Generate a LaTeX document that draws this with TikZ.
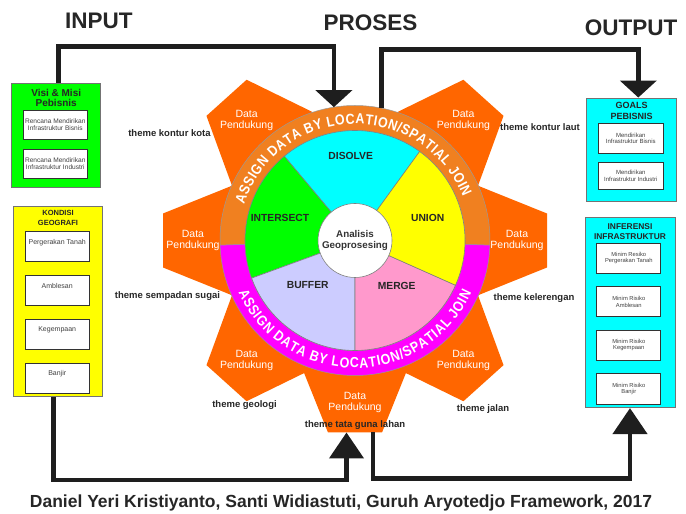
\documentclass[tikz,border=0pt]{standalone}
\usepackage{fontspec}
\setmainfont{Liberation Sans}
\newfontfamily\ringfamily[FakeStretch=0.86]{Liberation Sans}
\usetikzlibrary{arrows.meta,positioning,decorations.text}

\definecolor{visigreen}{RGB}{0,255,0}
\definecolor{geoyellow}{RGB}{255,255,0}
\definecolor{outcyan}{RGB}{0,255,255}
\definecolor{toothorange}{RGB}{255,102,0}
\definecolor{ringorange}{RGB}{240,128,32}
\definecolor{ringmagenta}{RGB}{255,0,255}
\definecolor{bufferblue}{RGB}{204,204,255}
\definecolor{mergepink}{RGB}{255,153,204}
\definecolor{flowgray}{RGB}{30,30,30}

\newcommand{\hdrfont}{\fontsize{22.5}{26}\selectfont\bfseries}
\newcommand{\ringfont}{\ringfamily\fontsize{14.5}{14.5}\selectfont\bfseries}

\begin{document}
\begin{tikzpicture}[x=1pt, y=1pt,
  panel/.style={draw=black!55, line width=0.8pt, inner sep=0pt},
  ttl/.style={text=black!85, align=center, inner sep=0pt},
  subbox/.style={draw=black!80, line width=1pt, fill=white, text=black!75, align=center, inner sep=1pt},
  topbox/.style={subbox, minimum width=64.3, text height=10.5pt, text depth=15.5pt, inner sep=2pt, font=\fontsize{7}{8}\selectfont},
  tooth/.style={fill=toothorange},
  sector/.style={draw=black!50, line width=0.6pt},
  dp/.style={text=white, align=center, font=\fontsize{10.5}{11}\selectfont, inner sep=0pt},
  theme/.style={font=\fontsize{9.5}{11}\selectfont\bfseries, text=black!85, inner sep=0pt},
  op/.style={font=\fontsize{10.3}{12}\selectfont\bfseries, text=black!85},
  hdr/.style={font=\hdrfont, text=black!85},
  flow/.style={draw=flowgray, line width=4.5pt},
  tiptop/.tip={Triangle[length=17pt, width=36pt]},
  tipbot/.tip={Triangle[length=26pt, width=34pt]}]

\useasboundingbox (0,0) rectangle (686,514);

\node[hdr] (input) at (98.8,493) {INPUT};
\node[hdr] (proses) at (370.5,491) {PROSES};
\node[hdr] (output) at (631,486.5) {OUTPUT};

\node[panel, fill=visigreen, minimum width=89, minimum height=104] (visi) at (56.2,378.7) {};
\node[ttl, font=\fontsize{10}{10.5}\selectfont\bfseries] (visititle) at (56.2,416.3) {Visi \& Misi\\Pebisnis};
\node[subbox, minimum width=64, minimum height=29.3, font=\fontsize{6.6}{7}\selectfont] (visi1) at (55.3,389.3) {Rencana Mendirikan\\Infrastruktur Bisnis};
\node[subbox, minimum width=64, minimum height=29, font=\fontsize{6.6}{7}\selectfont, below=9pt of visi1] (visi2) {Rencana Mendirikan\\Infrastruktur Industri};

\node[panel, fill=geoyellow, minimum width=89.4, minimum height=190] (kondisi) at (58,212.3) {};
\node[ttl, font=\fontsize{7.5}{10}\selectfont\bfseries] (kondisititle) at (58,295.7) {KONDISI\\GEOGRAFI};
\node[topbox] (kondisi1) at (57.2,267) {Pergerakan Tanah};
\node[topbox, below=12.7pt of kondisi1] (kondisi2) {Amblesan};
\node[topbox, below=12.7pt of kondisi2] (kondisi3) {Kegempaan};
\node[topbox, below=12.7pt of kondisi3] (kondisi4) {Banjir};

\node[panel, fill=outcyan, minimum width=90, minimum height=103.7] (goals) at (631.7,364.2) {};
\node[ttl, font=\fontsize{9}{11.5}\selectfont\bfseries] (goalstitle) at (631.7,403.1) {GOALS\\PEBISNIS};
\node[subbox, minimum width=65, minimum height=30, font=\fontsize{6}{6.7}\selectfont] (goals1) at (630.8,375.7) {Mendirikan\\Infrastruktur Bisnis};
\node[subbox, minimum width=65, minimum height=26.6, font=\fontsize{6}{6.7}\selectfont, below=8.4pt of goals1] (goals2) {Mendirikan\\Infrastruktur Industri};

\node[panel, fill=outcyan, minimum width=90, minimum height=190] (inferensi) at (630,201.3) {};
\node[ttl, font=\fontsize{8.4}{10}\selectfont\bfseries] (inferensititle) at (630,282.3) {INFERENSI\\INFRASTRUKTUR};
\node[subbox, minimum width=64.3, minimum height=30, font=\fontsize{5.8}{6.3}\selectfont] (inferensi1) at (628.8,255.7) {Minim Resiko\\Pergerakan Tanah};
\node[subbox, minimum width=64.3, minimum height=30, font=\fontsize{5.8}{6.3}\selectfont, below=12.5pt of inferensi1] (inferensi2) {Minim Risiko\\Amblesan};
\node[subbox, minimum width=64.3, minimum height=30, font=\fontsize{5.8}{6.3}\selectfont, below=12.5pt of inferensi2] (inferensi3) {Minim Risiko\\Kegempaan};
\node[subbox, minimum width=64.3, minimum height=31, font=\fontsize{5.8}{6.3}\selectfont, below=12.5pt of inferensi3] (inferensi4) {Minim Risiko\\Banjir};

\coordinate (O) at (355,273.5);
\begin{scope}[shift={(O)}]
  \foreach \a in {0,48,132,180,228,270,312}
    \fill[tooth, rotate=\a] (110,-60) -- (192,-27) -- (192,27) -- (110,60) -- cycle;
  \filldraw[fill=ringorange, draw=black!40, line width=0.5pt] (-2:110) arc[start angle=-2, end angle=182, radius=110] -- (182:135) arc[start angle=182, end angle=-2, radius=135] -- cycle;
  \filldraw[fill=ringmagenta, draw=black!40, line width=0.5pt] (182:110) arc[start angle=182, end angle=358, radius=110] -- (358:135) arc[start angle=358, end angle=182, radius=135] -- cycle;
  \foreach \s/\e/\c in {54/130/outcyan, 130/200/visigreen, 200/270/bufferblue, 270/336/mergepink, 336/414/geoyellow}
    \filldraw[sector, fill=\c] (0,0) -- (\s:110) arc[start angle=\s, end angle=\e, radius=110] -- cycle;
  \node[circle, fill=white, draw=black!50, line width=0.6pt, minimum size=74, inner sep=0pt, align=center, font=\fontsize{9.8}{11}\selectfont\bfseries, text=black!80] (geo) at (0,0) {Analisis\\Geoprosesing};
  \node[op] (disolve) at (-4.3,84.5) {DISOLVE};
  \node[op] (intersect) at (-75,22.2) {INTERSECT};
  \node[op] (union) at (72.7,22.2) {UNION};
  \node[op] (buffer) at (-47.3,-44.5) {BUFFER};
  \node[op] (merge) at (41.7,-45.2) {MERGE};
  \path[decorate, decoration={text along path, text={|\ringfont|ASSIGN DATA BY LOCATION/SPATIAL JOIN}, text color=white, text align={fit to path}}]
    (162:116.5) arc[start angle=162, end angle=22, radius=116.5];
  \path[decorate, decoration={text along path, text={|\ringfont|ASSIGN DATA BY LOCATION/SPATIAL JOIN}, text color=white, text align={fit to path}}]
    (204:127.5) arc[start angle=204, end angle=336, radius=127.5];
  \foreach \a [count=\i] in {0,48,132,180,228,270,312}
    \node[dp] (dp\i) at (\a:162) {Data\\Pendukung};
  \coordinate (ringin) at (99:135);
  \coordinate (ringout) at (78.6:135);
  \coordinate (toothin) at (-8.5,-192);
  \coordinate (toothout) at (18,-192);
\end{scope}

\node[theme] (kota) at (169.5,381) {theme kontur kota};
\node[theme] (laut) at (540,387) {theme kontur laut};
\node[theme] (sugai) at (167.5,218) {theme sempadan sugai};
\node[theme] (lereng) at (534,216) {theme kelerengan};
\node[theme] (geologi) at (244.5,109) {theme geologi};
\node[theme] (jalan) at (483,105) {theme jalan};
\node[theme] (lahan) at (355,89) {theme tata guna lahan};

\draw[flow, -{tiptop}] ([xshift=2.1pt]visi.north) |- ([yshift=60.5pt]ringin) -- (ringin);
\draw[flow, -{tiptop}] (ringout) |- ([xshift=6.6pt, yshift=48pt]goals.north) -- ([xshift=6.6pt]goals.north);
\draw[flow, -{tipbot}] ([xshift=-4.7pt]kondisi.south) |- ([yshift=-47.5pt]toothin) -- (toothin);
\draw[flow, -{tipbot}] (toothout) |- ([yshift=-70.3pt]inferensi.south) -- (inferensi.south);

\node[font=\fontsize{17.5}{20}\selectfont\bfseries, text=black!85] (credit) at (341,11) {Daniel Yeri Kristiyanto, Santi Widiastuti, Guruh Aryotedjo Framework, 2017};
\end{tikzpicture}
\end{document}
